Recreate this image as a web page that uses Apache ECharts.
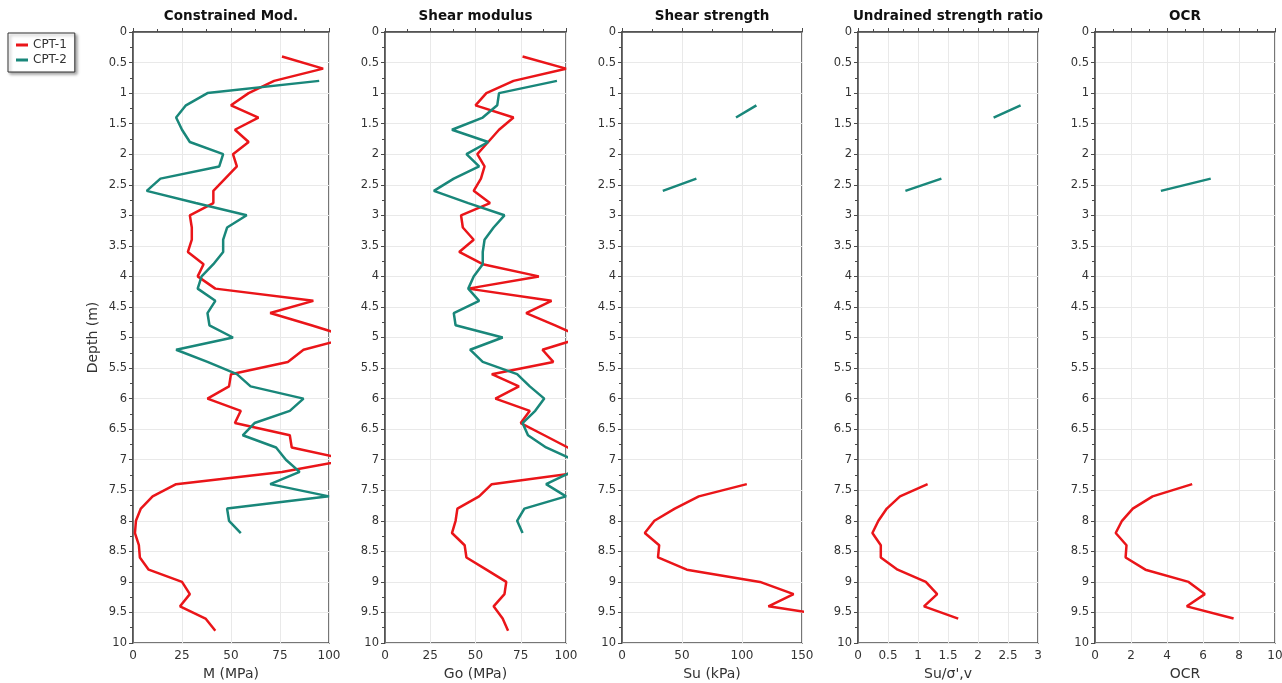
<!DOCTYPE html>
<html>
<head>
<meta charset="utf-8">
<title>CPT profiles</title>
<script src="https://cdn.jsdelivr.net/npm/echarts@6/dist/echarts.min.js"></script>
<style>
  html, body { margin: 0; padding: 0; background: #fff; overflow: hidden; }
  #chart { width: 1282px; height: 683px; }
</style>
</head>
<body>
<div id="chart"></div>
<script>
// Five CPT-derived profiles against depth, sharing one depth scale.

const RED = "#ea1519";
const TEAL = "#19877a";
const FONT = "DejaVu Sans, Verdana, sans-serif";

// CPT-1 sampling depths (m)
const DEPTH_1 = [
  0.4, 0.6, 0.8, 1.0, 1.2, 1.4, 1.6, 1.8, 2.0, 2.2, 2.4, 2.6, 2.8, 3.0, 3.2, 3.4,
  3.6, 3.8, 4.0, 4.2, 4.4, 4.6, 4.8, 5.0, 5.2, 5.4, 5.6, 5.8, 6.0, 6.2, 6.4, 6.6,
  6.8, 7.0, 7.2, 7.4, 7.6, 7.8, 8.0, 8.2, 8.4, 8.6, 8.8, 9.0, 9.2, 9.4, 9.6, 9.8,
];
// CPT-2 sampling depths (m)
const DEPTH_2 = [
  0.8, 1.0, 1.2, 1.4, 1.6, 1.8, 2.0, 2.2, 2.4, 2.6, 2.8, 3.0, 3.2, 3.4, 3.6, 3.8,
  4.0, 4.2, 4.4, 4.6, 4.8, 5.0, 5.2, 5.4, 5.6, 5.8, 6.0, 6.2, 6.4, 6.6, 6.8, 7.0,
  7.2, 7.4, 7.6, 7.8, 8.0, 8.2,
];
// depths where the strength-based parameters exist
const DEPTH_1_CLAY = [7.4, 7.6, 7.8, 8.0, 8.2, 8.4, 8.6, 8.8, 9.0, 9.2, 9.4, 9.6];
const DEPTH_2_CLAY = [1.2, 1.4, 2.0, 2.4, 2.6];

const M_CPT1 = [
  76, 97, 72, 59, 50, 64, 52, 59, 51, 53, 47, 41, 41, 29, 30, 30,
  28, 36, 33, 42, 92, 70, 91, 111, 87, 79, 50, 49, 38, 55, 52, 80,
  81, 110, 76, 22, 10, 4, 1.5, 1, 3, 3.5, 8, 25, 29, 24, 37, 42,
];
const M_CPT2 = [
  95, 38, 27, 22, 25, 29, 46, 44, 14, 7, 32, 58, 48, 46, 46, 41,
  35, 33, 42, 38, 39, 51, 22, 38, 53, 60, 87, 80, 62, 56, 73, 78,
  85, 70, 100, 48, 49, 55,
];

const GO_CPT1 = [
  76, 100, 71, 56, 50, 71, 63, 57, 51, 55, 53, 49, 58, 42, 43, 49,
  41, 54, 85, 46, 92, 78, 94, 109, 87, 93, 59, 74, 61, 80, 75, 88,
  101, 115, 110, 59, 52, 40, 39, 37, 44, 45, 56, 67, 66, 60, 65, 68,
];
const GO_CPT2 = [
  95, 63, 62, 54, 37, 57, 45, 52, 38, 27, 46, 66, 60, 55, 54, 54,
  49, 46, 52, 38, 39, 65, 47, 54, 73, 80, 88, 83, 76, 79, 89, 104,
  103, 89, 100, 77, 73, 76,
];

const SU_CPT1 = [104, 64, 44, 27, 19, 31, 30, 54, 115, 143, 122, 190];
const SU_CPT2 = [112, 95, null, 62, 34];

const RATIO_CPT1 = [1.16, 0.7, 0.48, 0.34, 0.24, 0.38, 0.38, 0.66, 1.13, 1.32, 1.1, 1.67];
const RATIO_CPT2 = [2.71, 2.26, null, 1.39, 0.79];

const OCR_CPT1 = [5.4, 3.2, 2.1, 1.5, 1.15, 1.75, 1.7, 2.8, 5.2, 6.1, 5.1, 7.7];
const OCR_CPT2 = [null, null, null, 6.43, 3.66];

const PANELS = [
  { title: "Constrained Mod.", axis: "M (MPa)", left: 133, width: 196, max: 100, step: 25,
    cpt1: [DEPTH_1, M_CPT1], cpt2: [DEPTH_2, M_CPT2] },
  { title: "Shear modulus", axis: "Go (MPa)", left: 385, width: 181, max: 100, step: 25,
    cpt1: [DEPTH_1, GO_CPT1], cpt2: [DEPTH_2, GO_CPT2] },
  { title: "Shear strength", axis: "Su (kPa)", left: 622, width: 180, max: 150, step: 50,
    cpt1: [DEPTH_1_CLAY, SU_CPT1], cpt2: [DEPTH_2_CLAY, SU_CPT2] },
  { title: "Undrained strength ratio", axis: "Su/σ',v", left: 858, width: 180, max: 3, step: 0.5,
    cpt1: [DEPTH_1_CLAY, RATIO_CPT1], cpt2: [DEPTH_2_CLAY, RATIO_CPT2] },
  { title: "OCR", axis: "OCR", left: 1095, width: 180, max: 10, step: 2,
    cpt1: [DEPTH_1_CLAY, OCR_CPT1], cpt2: [DEPTH_2_CLAY, OCR_CPT2] },
];

const GRID_TOP = 32;
const GRID_HEIGHT = 611;
const FRAME = "#4a4a4a";
const LABEL = "#333";
const SPLIT = "#e9e9e9";

// [value, depth] pairs; a missing value breaks the line
function pairs(depths, values) {
  return depths.map((d, i) => (values[i] == null ? ["-", d] : [values[i], d]));
}

function lineSeries(name, color, idx, [depths, values]) {
  return {
    name,
    type: "line",
    xAxisIndex: idx,
    yAxisIndex: idx,
    data: pairs(depths, values),
    showSymbol: false,
    symbol: "none",
    clip: true,
    connectNulls: false,
    lineStyle: { color, width: 2.5 },
    itemStyle: { color },
  };
}

const chart = echarts.init(document.getElementById("chart"), null, { renderer: "canvas" });

const option = {
  animation: false,
  backgroundColor: "#fff",
  textStyle: { fontFamily: FONT },
  title: PANELS.map((p) => ({
    text: p.title,
    left: p.left + p.width / 2,
    top: 9,
    padding: 0,
    textAlign: "center",
    textStyle: { fontFamily: FONT, fontSize: 13.5, fontWeight: "bold", color: "#111" },
  })),
  legend: {
    orient: "vertical",
    left: 8,
    top: 33,
    padding: [6, 8],
    itemGap: 3,
    itemWidth: 12,
    itemHeight: 3,
    icon: "rect",
    borderColor: "#333",
    borderWidth: 1,
    backgroundColor: "#fff",
    shadowColor: "rgba(0,0,0,0.35)",
    shadowBlur: 3,
    shadowOffsetX: 2,
    shadowOffsetY: 2,
    textStyle: { fontFamily: FONT, fontSize: 12, color: LABEL },
    data: ["CPT-1", "CPT-2"],
  },
  // fixed pixel boxes: keep v6 from shrinking grids to fit labels
  grid: PANELS.map((p) => ({
    left: p.left,
    top: GRID_TOP,
    width: p.width,
    height: GRID_HEIGHT,
    outerBoundsMode: "none",
    containLabel: false,
    show: true,
    borderColor: FRAME,
    borderWidth: 1.5,
  })),
  xAxis: PANELS.map((p, i) => ({
    type: "value",
    gridIndex: i,
    position: "bottom",
    min: 0,
    max: p.max,
    interval: p.step,
    name: p.axis,
    nameLocation: "middle",
    nameGap: 21,
    nameTextStyle: { fontFamily: FONT, fontSize: 14, color: LABEL },
    axisLine: { show: true, lineStyle: { color: FRAME, width: 1.5 } },
    axisTick: { show: true, inside: true, length: 4, lineStyle: { color: FRAME } },
    minorTick: { show: true, splitNumber: 2, length: 3, lineStyle: { color: FRAME } },
    axisLabel: { fontFamily: FONT, fontSize: 12, color: LABEL, margin: 7 },
    splitLine: { show: true, lineStyle: { color: SPLIT, width: 1 } },
  })),
  yAxis: PANELS.map((p, i) => ({
    type: "value",
    gridIndex: i,
    inverse: true,
    min: 0,
    max: 10,
    interval: 0.5,
    name: i === 0 ? "Depth (m)" : "",
    nameLocation: "middle",
    nameGap: 33,
    nameTextStyle: { fontFamily: FONT, fontSize: 14, color: LABEL },
    axisLine: { show: true, lineStyle: { color: FRAME, width: 1.5 } },
    axisTick: { show: true, length: 4, lineStyle: { color: FRAME } },
    minorTick: { show: true, splitNumber: 2, length: 3, lineStyle: { color: FRAME } },
    axisLabel: { fontFamily: FONT, fontSize: 11.5, color: LABEL, margin: 6 },
    splitLine: { show: true, lineStyle: { color: SPLIT, width: 1 } },
  })),
  series: PANELS.flatMap((p, i) => [
    lineSeries("CPT-1", RED, i, p.cpt1),
    lineSeries("CPT-2", TEAL, i, p.cpt2),
  ]),
};

chart.setOption(option);
</script>
</body>
</html>
